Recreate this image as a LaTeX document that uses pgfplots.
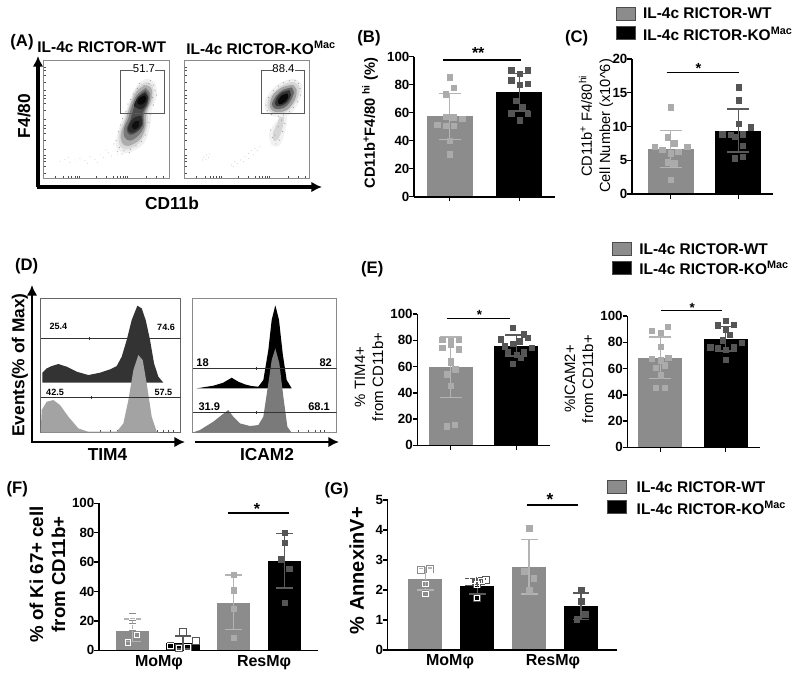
\documentclass[border=0pt]{standalone}
\usepackage{fontspec}
\setmainfont{Liberation Sans}
\usepackage{pgfplots}
\pgfplotsset{compat=1.18}
\usetikzlibrary{arrows.meta}
\definecolor{barG}{HTML}{8C8C8C}
\definecolor{ptL}{HTML}{ABABAB}
\definecolor{errL}{HTML}{B4B4B4}
\definecolor{ptD}{HTML}{555555}
\definecolor{errD}{HTML}{5A5A5A}
\definecolor{frameG}{HTML}{8A8A8A}
\newcommand{\Nd}[4][]{\node[#1] at ({#2*0.75pt},{-#3*0.75pt}) {#4};}
\newcommand{\Ar}[5]{\draw[line width=#1,-{Latex[length=8pt,width=8pt]}] ({#2*0.75pt},{-#3*0.75pt}) -- ({#4*0.75pt},{-#5*0.75pt});}
\newcommand{\swatch}[5]{\fill[#5,draw=black!70,line width=0.4pt] ({#1*0.75pt},{-#2*0.75pt}) rectangle ({#3*0.75pt},{-#4*0.75pt});}
\newcommand{\barplot}[5]{%
 \addplot[ybar,bar width=\bw,bar shift=0pt,fill=#5,draw=none] coordinates {(#1,#2)};
}
\newcommand{\errplot}[5]{%
 \addplot[draw=none,mark=none,error bars/.cd,y dir=both,y explicit,
  error bar style={color=#5,line width=1.1pt},
  error mark options={rotate=90,mark size=\cap,color=#5,line width=1.1pt}]
  coordinates {(#1,#2) +=(0,#3) -=(0,#4)};
}
\newcommand{\pts}[2]{\addplot[only marks,mark=square*,mark size=2pt,mark options={fill=#1,draw=#1,line width=0.1pt}] coordinates {#2};}
\newcommand{\hollow}[2]{\addplot[only marks,mark=square,mark size=2.6pt,mark options={draw=#1,line width=0.55pt,fill=none}] coordinates {#2};
 \addplot[only marks,mark=square,mark size=2pt,mark options={draw=white,line width=0.7pt,fill=none}] coordinates {#2};}
\newcommand{\speck}[2]{\addplot[only marks,mark=*,mark size=0.28pt,mark options={fill=#1,draw=#1,line width=0.05pt}] coordinates {#2};}
\pgfplotsset{
 axat/.style 2 args={at={({#1*0.75pt},{-#2*0.75pt})},anchor=south west},
 barax/.style={scale only axis,axis lines=left,axis line style={-,line width=1.2pt},
  tick style={black,line width=1.1pt},tick align=outside,major tick length=3.5pt,
  clip=false,axis on top,ymin=0,xtick={0,1},xticklabels={},
  /pgf/number format/assume math mode=true,
  yticklabel style={font=\bfseries},xticklabel style={font=\bfseries}},
 catax/.style={barax,major x tick style={draw=none},major tick length=3.5pt},
 flow/.style={scale only axis,axis line style={draw=frameG,line width=0.9pt},
  xticklabels={},yticklabels={},tick align=inside,major tick length=2pt,
  tick style={black!70,line width=0.3pt},xtick pos=bottom,ytick pos=left,clip=true},
}
\newcommand{\blob}[2]{\addplot[smooth,tension=0.6,fill=#1,draw=none] coordinates {#2};}
\newcommand{\dist}[2]{\addplot[fill=#1,draw=none] coordinates {#2};}
\newcommand{\IL}{IL-4c RICTOR-WT}
\newcommand{\ILK}{IL-4c RICTOR-KO\textsuperscript{Mac}}
\begin{document}
\begin{tikzpicture}[every node/.style={inner sep=0pt,outer sep=0pt}]
\path[use as bounding box] (0,0) rectangle (600pt,-509.25pt);

%%%%%%%%%%%% Panel A left
\begin{axis}[flow,axat={43.3}{178.3},width=94.5pt,height=88.1pt,
 xmin=130,xmax=508,ymin=-475,ymax=-122,
 xtick={165,190,205,215,225,232,238,290,320,340,352,362,370,377,383,440,470,490},
 ytick={-460,-440,-425,-415,-405,-387,-360,-340,-325,-315,-298,-270,-250,-235,-225,-210,-185,-165,-150,-140}]
\speck{black!18}{(180,-425)(195,-418)(210,-428)(225,-420)(240,-415)(255,-422)(270,-410)(285,-418)(300,-405)(310,-412)(325,-398)(335,-408)(345,-390)(205,-412)(262,-430)(292,-428)(318,-390)(352,-405)}
\blob{black!6}{(440,-176)(465,-188)(470,-230)(455,-270)(450,-320)(430,-372)(385,-398)(352,-388)(350,-350)(366,-300)(382,-260)(398,-218)(420,-186)(440,-176)}
\blob{black!15}{(440,-186)(458,-198)(460,-238)(445,-275)(442,-320)(423,-364)(385,-388)(360,-378)(357,-342)(374,-295)(388,-255)(405,-212)(424,-192)(440,-186)}
\blob{black!32}{(440,-195)(455,-207)(454,-240)(440,-276)(437,-320)(420,-358)(385,-378)(366,-368)(363,-340)(378,-297)(390,-257)(408,-217)(426,-200)(440,-195)}
\blob{black!52}{(437,-204)(450,-220)(447,-250)(433,-280)(432,-320)(415,-347)(390,-362)(373,-350)(372,-325)(385,-295)(393,-265)(410,-226)(437,-204)}
\blob{black!70}{(436,-212)(446,-228)(441,-256)(428,-278)(428,-315)(410,-337)(390,-344)(380,-328)(391,-300)(400,-268)(412,-232)(436,-212)}
\blob{black!85}{(435,-218)(444,-232)(438,-254)(424,-268)(408,-262)(402,-256)(412,-234)(435,-218)}
\blob{black!83}{(424,-288)(426,-315)(408,-333)(391,-338)(384,-325)(394,-302)(407,-290)(424,-288)}
\blob{black!97}{(435,-226)(439,-240)(425,-254)(412,-248)(418,-234)(435,-226)}
\blob{black!94}{(418,-302)(416,-320)(402,-328)(396,-316)(405,-304)(418,-302)}
\speck{black!45}{(452,-182)(460,-195)(447,-190)(432,-196)(465,-212)(470,-225)(458,-232)(412,-205)(400,-222)(392,-238)(384,-252)(378,-275)(368,-295)(362,-315)(355,-335)(348,-362)(358,-382)(372,-392)(392,-388)(408,-378)(425,-365)(436,-345)(447,-308)(452,-282)(460,-255)(342,-372)(388,-398)(366,-402)(352,-395)(418,-190)}
\addplot[black!65,line width=0.55pt] coordinates {(400,-152)(362,-152)(362,-280)(493,-280)(493,-152)(466,-152)};
\end{axis}
%%%%%%%%%%%% Panel A right
\begin{axis}[flow,axat={184.3}{178.3},width=93.75pt,height=88.1pt,
 xmin=553,xmax=928,ymin=-475,ymax=-122,
 xtick={590,615,630,640,650,658,665,715,745,765,777,787,795,802,808,865,895,915},
 ytick={-460,-440,-425,-415,-405,-387,-360,-340,-325,-315,-298,-270,-250,-235,-225,-210,-185,-165,-150,-140}]
\speck{black!20}{(612,-412)(620,-405)(628,-402)(618,-418)(625,-412)(608,-420)(700,-440)(712,-430)(722,-420)(735,-410)(745,-400)(755,-392)(765,-385)(730,-425)(745,-415)(760,-405)(772,-392)(705,-425)(695,-435)(780,-380)}
\blob{black!5}{(842,-288)(860,-290)(856,-330)(840,-375)(815,-375)(808,-338)(828,-305)(842,-288)}
\blob{black!16}{(838,-292)(852,-292)(846,-330)(832,-360)(820,-360)(820,-335)(832,-310)(838,-292)}
\blob{black!6}{(882,-176)(905,-192)(904,-226)(884,-268)(860,-288)(820,-288)(798,-272)(796,-240)(822,-202)(855,-182)(882,-176)}
\blob{black!16}{(880,-185)(898,-200)(894,-232)(870,-268)(835,-282)(806,-270)(805,-238)(830,-208)(858,-190)(880,-185)}
\blob{black!36}{(878,-194)(890,-208)(884,-240)(860,-270)(826,-276)(810,-260)(818,-226)(846,-202)(878,-194)}
\blob{black!60}{(874,-202)(882,-216)(870,-246)(850,-264)(826,-266)(816,-252)(829,-226)(850,-209)(874,-202)}
\blob{black!80}{(868,-210)(873,-225)(860,-248)(840,-258)(826,-255)(829,-235)(845,-218)(868,-210)}
\blob{black!97}{(862,-220)(865,-232)(852,-248)(838,-252)(834,-242)(845,-226)(862,-220)}
\speck{black!45}{(885,-182)(895,-190)(900,-205)(902,-225)(892,-245)(880,-262)(868,-275)(850,-285)(835,-290)(815,-284)(802,-272)(798,-255)(806,-232)(820,-212)(835,-198)(850,-188)(868,-182)(845,-300)(835,-320)(848,-335)(825,-345)(838,-360)(818,-352)(828,-372)(812,-330)(855,-310)}
\addplot[black!65,line width=0.55pt] coordinates {(820,-152)(783,-152)(783,-280)(913,-280)(913,-152)(886,-152)};
\end{axis}
\Nd{144}{69}{\fontsize{8.5pt}{9pt}\selectfont 51.7}
\Nd{283.5}{68.5}{\fontsize{8.5pt}{9pt}\selectfont 88.4}
\Ar{2.3pt}{38}{187}{38}{56}
\Ar{2.3pt}{37}{187}{322}{187}
\Nd{101.7}{47.5}{\fontsize{11.6pt}{12pt}\selectfont\bfseries \IL}
\Nd{261}{47.5}{\fontsize{11.6pt}{12pt}\selectfont\bfseries \ILK}
\Nd{22}{42}{\fontsize{12.5pt}{13pt}\selectfont\bfseries (A)}
\Nd[rotate=90]{24}{116}{\fontsize{13pt}{14pt}\selectfont\bfseries F4/80}
\Nd{172}{203}{\fontsize{13pt}{14pt}\selectfont\bfseries CD11b}

%%%%%%%%%%%% Panel B
\def\bw{34.5pt}\def\cap{8.3pt}
\begin{axis}[barax,axat={414}{196.7},width=105.75pt,height=105pt,
 xmin=-0.512,xmax=1.512,ymax=100,ytick={0,20,40,60,80,100},
 ticklabel style={font=\fontsize{12pt}{13pt}\selectfont\bfseries},
 ylabel={CD11b\textsuperscript{+}F4/80 \textsuperscript{hi} (\%)},
 every axis y label/.style={at={(axis description cs:-0.312,0.526)},rotate=90,anchor=center,font=\fontsize{11pt}{12pt}\selectfont\bfseries}]
\barplot{0}{57.4}{}{}{barG}\barplot{1}{74.6}{}{}{black}
\errplot{0}{57.4}{16.4}{16.4}{errL}\errplot{1}{74.6}{13.4}{13.4}{errD}
\pts{ptL}{(0,85.4)(0.06,78)(-0.06,73.2)(-0.05,57.4)(0.05,57)(0.18,56)(-0.18,51.4)(-0.05,50.7)(0.06,50.7)(0,40)(0,30.4)}
\pts{ptD}{(0.88,90.4)(1.12,90.4)(1,88)(0.88,83.3)(1.12,80.6)(1,80)(0.95,68.7)(1.05,64.6)(0.88,59.8)(1.12,59.6)(1,54.8)}
\addplot[black,line width=1.1pt] coordinates {(-0.09,97.8)(1.02,97.8)};
\node at (axis cs:0.41,102.5) {\fontsize{12pt}{13pt}\selectfont\bfseries **};
\end{axis}
\Nd{369}{38}{\fontsize{12.5pt}{13pt}\selectfont\bfseries (B)}

%%%%%%%%%%%% Panel C
\begin{axis}[barax,axat={632}{194},width=105.75pt,height=101.25pt,
 xmin=-0.572,xmax=1.512,ymax=20,ytick={0,5,10,15,20},
 ticklabel style={font=\fontsize{12pt}{13pt}\selectfont\bfseries},
 ylabel={CD11b\textsuperscript{+} F4/80\textsuperscript{hi}\\Cell Number (x10\textasciicircum 6)},
 every axis y label/.style={at={(axis description cs:-0.255,0.504)},rotate=90,anchor=center,align=center,font=\fontsize{11pt}{13.7pt}\selectfont}]
\barplot{0}{6.6}{}{}{barG}\barplot{1}{9.33}{}{}{black}
\errplot{0}{6.6}{2.83}{2.7}{errL}\errplot{1}{9.33}{3.27}{3.13}{errD}
\pts{ptL}{(0,12.9)(-0.05,8.44)(0.05,7.55)(-0.24,7)(0.24,7)(-0.13,6.57)(0.11,6.3)(0,6.07)(-0.05,4.74)(0.05,4.6)(0,2.1)}
\pts{ptD}{(1,15.85)(1,13.9)(1,10.4)(1.18,9.9)(0.76,8.9)(0.88,8.84)(1.06,8.9)(0.95,8.5)(1.06,7.2)(0.94,5.3)(1.06,5.5)}
\addplot[black,line width=1.1pt] coordinates {(-0.06,18)(1.01,18)};
\node at (axis cs:0.41,18.6) {\fontsize{11pt}{12pt}\selectfont\bfseries *};
\end{axis}
\Nd{576.7}{38}{\fontsize{12.5pt}{13pt}\selectfont\bfseries (C)}
\swatch{616.7}{7.3}{635}{20.7}{barG}
\swatch{616.7}{26}{635}{39.3}{black}
\Nd[anchor=west]{643}{13.3}{\fontsize{11.6pt}{12pt}\selectfont\bfseries \IL}
\Nd[anchor=west]{643}{33.5}{\fontsize{11.6pt}{12pt}\selectfont\bfseries \ILK}

%%%%%%%%%%%% Panel D left
\begin{axis}[flow,axis line style={draw=black!60,line width=0.7pt},axat={40.7}{432.7},width=105pt,height=100.5pt,
 xmin=122,xmax=542,ymin=-578,ymax=-176,
 xtick={150,180,200,215,226,300,330,350,365,375,385,392,440,470,490,505,518},ytick=\empty]
\dist{black!80}{(127,-428)(127,-398)(140,-385)(155,-378)(175,-372)(200,-380)(230,-395)(265,-405)(300,-398)(330,-388)(350,-378)(365,-350)(380,-300)(395,-240)(412,-197)(425,-205)(437,-240)(450,-300)(462,-370)(475,-410)(490,-428)}
\dist{black!36}{(122,-578)(125,-510)(140,-485)(160,-480)(180,-495)(205,-530)(235,-565)(265,-575)(350,-575)(370,-550)(385,-480)(400,-390)(415,-345)(428,-360)(440,-430)(455,-530)(470,-575)(480,-578)}
\addplot[black!80,line width=0.5pt] coordinates {(123,-296)(542,-296)};
\addplot[black!80,line width=0.5pt] coordinates {(123,-472)(542,-472)};
\addplot[black!80,line width=0.5pt] coordinates {(268,-291)(268,-301)};
\addplot[black!80,line width=0.5pt] coordinates {(274,-467)(274,-477)};
\node at (axis cs:175,-258) {\fontsize{6.8pt}{8pt}\selectfont\bfseries 25.4};
\node at (axis cs:498,-262) {\fontsize{6.8pt}{8pt}\selectfont\bfseries 74.6};
\node at (axis cs:165,-456) {\fontsize{6.8pt}{8pt}\selectfont\bfseries 42.5};
\node at (axis cs:490,-456) {\fontsize{6.8pt}{8pt}\selectfont\bfseries 57.5};
\end{axis}
%%%%%%%%%%%% Panel D right
\begin{axis}[flow,axat={192.3}{432.7},width=108.3pt,height=100.5pt,
 xmin=577,xmax=1010,ymin=-578,ymax=-176,
 xtick={605,635,655,670,682,755,785,805,820,830,840,847,895,925,945,960,973},ytick=\empty]
\dist{black}{(590,-445)(640,-437)(670,-428)(695,-413)(715,-425)(735,-433)(755,-438)(775,-440)(790,-420)(805,-330)(815,-240)(826,-196)(837,-240)(848,-340)(860,-420)(875,-445)}
\dist{black!52}{(577,-578)(600,-570)(640,-545)(665,-525)(685,-510)(700,-530)(720,-550)(750,-558)(775,-555)(790,-530)(805,-430)(815,-360)(826,-325)(838,-370)(850,-470)(862,-560)(875,-578)}
\addplot[black!80,line width=0.5pt] coordinates {(580,-385)(1010,-385)};
\addplot[black!80,line width=0.5pt] coordinates {(580,-518)(1010,-518)};
\addplot[black!80,line width=0.5pt] coordinates {(769,-380)(769,-390)};
\addplot[black!80,line width=0.5pt] coordinates {(769,-513)(769,-523)};
\node at (axis cs:608,-368) {\fontsize{8.3pt}{8pt}\selectfont\bfseries 18};
\node at (axis cs:977,-368) {\fontsize{8.3pt}{8pt}\selectfont\bfseries 82};
\node at (axis cs:628,-500) {\fontsize{8.3pt}{8pt}\selectfont\bfseries 31.9};
\node at (axis cs:957,-500) {\fontsize{8.3pt}{8pt}\selectfont\bfseries 68.1};
\end{axis}
\Ar{1.9pt}{32}{442}{32}{285}
\Ar{1.9pt}{31}{442}{185}{442}
\Ar{1.9pt}{195}{442}{339}{442}
\Nd{26.7}{266}{\fontsize{12.5pt}{13pt}\selectfont\bfseries (D)}
\Nd[rotate=90]{20}{365}{\fontsize{13pt}{14pt}\selectfont\bfseries Events(\% of Max)}
\Nd{107.5}{455}{\fontsize{13pt}{14pt}\selectfont\bfseries TIM4}
\Nd{267}{455}{\fontsize{13pt}{14pt}\selectfont\bfseries ICAM2}

%%%%%%%%%%%% Panel E left
\def\bw{33pt}\def\cap{8.3pt}
\begin{axis}[barax,axat={417.33}{445.3},width=99.5pt,height=98.5pt,
 xmin=-0.507,xmax=1.513,ymax=100,ytick={0,20,40,60,80,100},
 ticklabel style={font=\fontsize{10.5pt}{12pt}\selectfont\bfseries},
 ylabel={\% TIM4+\\from CD11b+},
 every axis y label/.style={at={(axis description cs:-0.364,0.52)},rotate=90,anchor=center,align=center,font=\fontsize{11.2pt}{13.5pt}\selectfont}]
\barplot{0}{59.4}{}{}{barG}\barplot{1}{75.9}{}{}{black}
\errplot{0}{59.4}{23}{23}{errL}\errplot{1}{75.9}{8}{8}{errD}
\pts{ptL}{(-0.13,80.7)(0.12,80.7)(0,80)(-0.13,74.6)(0,77)(0.12,73.4)(0,64.5)(0,63)(0.07,58)(-0.06,54.3)(0,45.4)(0.06,16)(-0.06,14.7)}
\pts{ptD}{(0.94,89.6)(1.11,84.8)(0.76,81)(1.17,82)(0.94,77.4)(1.04,79.4)(0.82,75.6)(1.23,74.4)(1.11,71.3)(0.87,71.3)(1,69.3)(1.06,66.8)(0.94,62)}
\addplot[black,line width=1.1pt] coordinates {(-0.06,96.7)(0.91,96.7)};
\node at (axis cs:0.44,99) {\fontsize{10pt}{12pt}\selectfont\bfseries *};
\end{axis}
\Nd{372.3}{269.3}{\fontsize{12.5pt}{13pt}\selectfont\bfseries (E)}
%%%%%%%%%%%% Panel E right
\begin{axis}[barax,axat={627.33}{447.33},width=99.5pt,height=98.5pt,
 xmin=-0.505,xmax=1.526,ymax=100,ytick={0,20,40,60,80,100},
 ticklabel style={font=\fontsize{10.5pt}{12pt}\selectfont\bfseries},
 ylabel={\%ICAM2+\\from CD11b+},
 every axis y label/.style={at={(axis description cs:-0.364,0.52)},rotate=90,anchor=center,align=center,font=\fontsize{11.2pt}{13.5pt}\selectfont}]
\barplot{0}{68}{}{}{barG}\barplot{1}{82.5}{}{}{black}
\errplot{0}{68}{16}{15.5}{errL}\errplot{1}{82.5}{9.5}{9}{errD}
\pts{ptL}{(-0.13,88.8)(0.11,92)(0,87.3)(0,76.6)(-0.13,67.8)(0.12,68.5)(0,66.5)(0.06,62.7)(-0.07,60.7)(0,55)(-0.07,45.4)(0.06,45.4)}
\pts{ptD}{(1,96.4)(0.88,93)(1.12,93.6)(1,89.8)(1.06,86)(0.95,81.7)(0.76,76.4)(1.24,79.7)(0.88,76)(1.12,76.4)(1,74.6)(1,67)}
\addplot[black,line width=1.1pt] coordinates {(0.01,104)(0.95,104)};
\node at (axis cs:0.49,106.5) {\fontsize{10pt}{12pt}\selectfont\bfseries *};
\end{axis}
\swatch{612.7}{242.7}{631}{255.3}{barG}
\swatch{612.7}{261.7}{631}{274}{black}
\Nd[anchor=west]{639.3}{249}{\fontsize{11.6pt}{12pt}\selectfont\bfseries \IL}
\Nd[anchor=west]{639.3}{268}{\fontsize{11.6pt}{12pt}\selectfont\bfseries \ILK}

%%%%%%%%%%%% Panel F
\def\bw{25pt}\def\cap{6.3pt}
\begin{axis}[catax,axat={99}{650.33},width=164.25pt,height=110.25pt,
 xmin=-0.658,xmax=3.664,ymax=100,ytick={0,20,40,60,80,100},
 xtick={0.526,2.6},xticklabels={MoMφ,ResMφ},
 ticklabel style={font=\fontsize{11.5pt}{13pt}\selectfont\bfseries},
 xticklabel style={font=\fontsize{12pt}{13pt}\selectfont\bfseries},
 ylabel={\% of Ki 67+ cell\\from CD11b+},
 every axis y label/.style={at={(axis description cs:-0.235,0.516)},rotate=90,anchor=center,align=center,font=\fontsize{14pt}{16.5pt}\selectfont\bfseries}]
\barplot{0}{13.4}{}{}{barG}\barplot{1}{5.2}{}{}{black}\barplot{2}{32.4}{}{}{barG}\barplot{3}{60.8}{}{}{black}
\errplot{0}{13.4}{7.9}{7.5}{errL}\errplot{1}{5.2}{4.6}{4.2}{errD}\errplot{2}{32.4}{18.8}{18.4}{errL}\errplot{3}{60.8}{18.8}{18.4}{errD}
\hollow{barG}{(0,22.7)(0,16)(0.09,10.4)(-0.09,5.4)}
\hollow{ptD}{(1,12.5)(1.25,6.3)(0.75,3)(1.09,2)(0.92,1.4)}
\pts{ptL}{(2,51.7)(2,41)(2,28.3)(2,8.6)}
\pts{ptD}{(3,80.3)(3,73.5)(2.92,62)(3.09,55.6)(3,32.4)}
\addplot[black,line width=1.1pt] coordinates {(1.88,93.4)(3.1,93.4)};
\node at (axis cs:2.46,96) {\fontsize{12pt}{13pt}\selectfont\bfseries *};
\end{axis}
\Nd{17.3}{489.3}{\fontsize{12.5pt}{13pt}\selectfont\bfseries (F)}

%%%%%%%%%%%% Panel G
\def\bw{25.5pt}\def\cap{6.3pt}
\begin{axis}[catax,axat={387.67}{650},width=171.75pt,height=112.5pt,
 xmin=-0.726,xmax=3.687,ymax=5,ytick={0,1,2,3,4,5},
 xtick={0.476,2.46},xticklabels={MoMφ,ResMφ},
 ticklabel style={font=\fontsize{13.5pt}{15pt}\selectfont\bfseries},
 xticklabel style={font=\fontsize{12pt}{13pt}\selectfont\bfseries},
 ylabel={\% AnnexinV+},
 every axis y label/.style={at={(axis description cs:-0.135,0.529)},rotate=90,anchor=center,font=\fontsize{15pt}{17pt}\selectfont\bfseries}]
\barplot{0}{2.37}{}{}{barG}\barplot{1}{2.12}{}{}{black}\barplot{2}{2.76}{}{}{barG}\barplot{3}{1.46}{}{}{black}
\errplot{0}{2.37}{0.37}{0.37}{errL}\errplot{1}{2.12}{0.25}{0.25}{errD}\errplot{2}{2.76}{0.92}{0.89}{errL}\errplot{3}{1.46}{0.44}{0.44}{errD}
\hollow{barG}{(-0.08,2.66)(0.09,2.69)(0,2.2)(0,1.87)}
\hollow{ptD}{(1.17,2.34)(0.83,2.26)(0.91,2.32)(1,2.19)(1.08,2.3)(1,1.73)}
\pts{ptL}{(2,4.06)(1.9,2.63)(2.08,2.4)(2,2)}
\pts{ptD}{(3,2)(3,1.63)(3.08,1.2)(2.92,1.03)}
\addplot[black,line width=1.1pt] coordinates {(1.95,4.84)(2.95,4.84)};
\node at (axis cs:2.4,5.0) {\fontsize{13pt}{14pt}\selectfont\bfseries *};
\end{axis}
\Nd{336.7}{490}{\fontsize{12.5pt}{13pt}\selectfont\bfseries (G)}
\swatch{607.7}{480}{626.7}{493.3}{barG}
\swatch{607.7}{500}{626.7}{513.3}{black}
\Nd[anchor=west]{636.7}{486.7}{\fontsize{11.6pt}{12pt}\selectfont\bfseries \IL}
\Nd[anchor=west]{636.7}{507.5}{\fontsize{11.6pt}{12pt}\selectfont\bfseries \ILK}
\end{tikzpicture}
\end{document}
